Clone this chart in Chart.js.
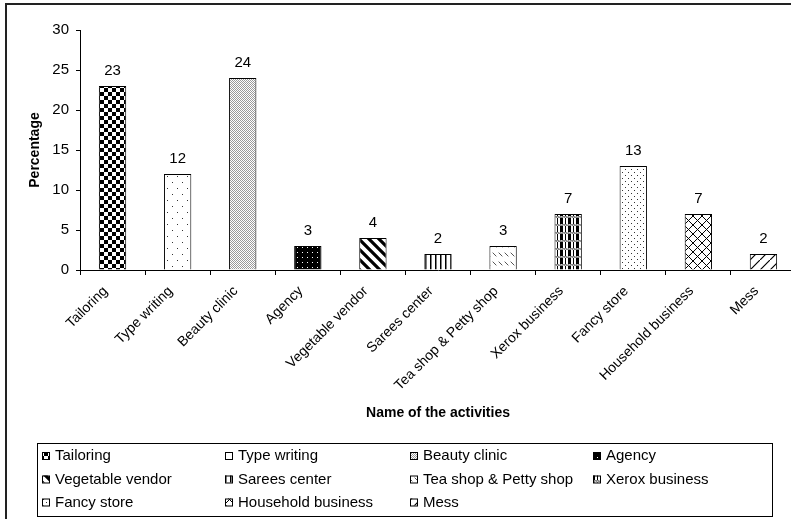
<!DOCTYPE html>
<html>
<head>
<meta charset="utf-8">
<script src="https://cdn.jsdelivr.net/npm/chart.js@4/dist/chart.umd.min.js"></script>
<style>
  html, body { margin: 0; padding: 0; background: #fff; overflow: hidden; }
  #wrap { position: relative; width: 791px; height: 519px; overflow: hidden; }
  #c { position: absolute; left: 0; top: 0; }
</style>
</head>
<body>
<div id="wrap"><canvas id="c" width="796" height="519"></canvas></div>
<script>
// Share of women entrepreneurs by activity
const categories = [
  'Tailoring', 'Type writing', 'Beauty clinic', 'Agency', 'Vegetable vendor',
  'Sarees center', 'Tea shop & Petty shop', 'Xerox business', 'Fancy store',
  'Household business', 'Mess'
];
const percentages = [23, 12, 24, 3, 4, 2, 3, 7, 13, 7, 2];
const yMin = 0;
const yMax = 30;
const yStep = 5;
const yTitle = 'Percentage';
const xTitle = 'Name of the activities';

const FONT = '"Liberation Sans", Arial, sans-serif';
const canvas = document.getElementById('c');
const ctx = canvas.getContext('2d');

// ---- monochrome fill patterns, one per activity ----
function tile(w, h, draw) {
  const t = document.createElement('canvas');
  t.width = w; t.height = h;
  const g = t.getContext('2d');
  g.fillStyle = '#fff';
  g.fillRect(0, 0, w, h);
  draw(g, w, h);
  return ctx.createPattern(t, 'repeat');
}
function px(g, pts, color) {
  g.fillStyle = color;
  pts.forEach(([x, y, w, h]) => g.fillRect(x, y, w || 1, h || 1));
}
function lines(g, segs, width, color) {
  g.strokeStyle = color; g.lineWidth = width; g.lineCap = 'square';
  g.beginPath();
  segs.forEach(([a, b, c, d]) => { g.moveTo(a, b); g.lineTo(c, d); });
  g.stroke();
}

const patterns = [
  // checkerboard
  tile(8, 8, g => px(g, [[0, 0, 4, 4], [4, 4, 4, 4]], '#000')),
  // sparse dots
  tile(10, 12, g => px(g, [[2, 2], [7, 8]], '#333')),
  // fine grey stipple
  tile(2, 2, g => px(g, [[0, 0], [1, 1]], '#9a9a9a')),
  // black with white dots
  tile(5, 5, g => { px(g, [[0, 0, 5, 5]], '#000'); px(g, [[2, 2]], '#fff'); }),
  // wide backward diagonal
  tile(10, 10, g => lines(g, [[-10, 0, 10, 20], [0, 0, 10, 10], [0, -10, 20, 10]], 3.2, '#000')),
  // vertical lines
  tile(5, 2, g => px(g, [[0, 0, 1.5, 2]], '#000')),
  // short dashed backward diagonals
  tile(6, 9, g => lines(g, [[1, 1, 4, 4]], 1, '#555')),
  // plaid: black columns with grey bands
  tile(8, 8, g => {
    px(g, [[0, 0, 3, 8], [5, 0, 1, 8]], '#000');
    px(g, [[0, 0, 8, 2]], '#888');
    px(g, [[1, 0], [5, 1], [3, 1], [7, 0]], '#ccc');
  }),
  // medium dots
  tile(6, 6, g => px(g, [[1, 1], [4, 4]], '#333')),
  // diagonal cross hatch
  tile(9, 9, g => lines(g, [[0, 0, 9, 9], [0, 9, 9, 0]], 1, '#000')),
  // wide forward diagonal
  tile(10, 10, g => lines(g, [[0, 10, 10, 0]], 1.2, '#000'))
];

// ---- value labels above the bars ----
const valueLabels = {
  id: 'valueLabels',
  afterDatasetsDraw(chart) {
    const c = chart.ctx;
    const meta = chart.getDatasetMeta(0);
    c.save();
    c.font = '15px ' + FONT;
    c.fillStyle = '#000';
    c.textAlign = 'center';
    c.textBaseline = 'middle';
    meta.data.forEach((bar, i) => {
      c.fillText(String(chart.data.datasets[0].data[i]), bar.x, bar.y - 15);
    });
    c.restore();
  }
};

// ---- boxed legend in a four-column grid, plus outer frame ----
const gridLegend = {
  id: 'gridLegend',
  afterDraw(chart) {
    const c = chart.ctx;
    const ds = chart.data.datasets[0];
    c.save();
    // legend box
    c.strokeStyle = '#000';
    c.lineWidth = 1;
    c.strokeRect(37.5, 443.5, 735, 73);
    const colX = [42, 225, 410, 593];
    const rowY = [456, 479.5, 502.5];
    c.font = '15px ' + FONT;
    c.textBaseline = 'middle';
    c.textAlign = 'left';
    chart.data.labels.forEach((lab, i) => {
      const x = colX[i % 4];
      const y = rowY[Math.floor(i / 4)];
      c.fillStyle = ds.backgroundColor[i];
      c.fillRect(x, y - 4, 7, 7);
      c.strokeStyle = '#000';
      c.strokeRect(x + 0.5, y - 3.5, 7, 7);
      c.fillStyle = '#000';
      c.fillText(lab, x + 13, y);
    });
    // outer frame
    c.strokeStyle = '#222';
    c.lineWidth = 2;
    c.strokeRect(6, 4, 1000, 1000);
    c.restore();
  }
};

new Chart(canvas, {
  type: 'bar',
  data: {
    labels: categories,
    datasets: [{
      data: percentages,
      backgroundColor: patterns,
      borderColor: '#000',
      borderWidth: 1,
      borderSkipped: 'bottom',
      barPercentage: 0.42,
      categoryPercentage: 1
    }]
  },
  options: {
    responsive: false,
    animation: false,
    devicePixelRatio: 1,
    layout: { padding: { left: 27, top: 30, right: 0, bottom: 97 } },
    plugins: { legend: { display: false }, tooltip: { enabled: false } },
    scales: {
      x: {
        offset: true,
        grid: {
          offset: true, drawOnChartArea: false, drawTicks: true,
          tickLength: 5, color: '#000', lineWidth: 1
        },
        border: { display: true, color: '#000', width: 1 },
        ticks: {
          autoSkip: false, maxRotation: 45, minRotation: 45,
          padding: 8, labelOffset: -7,
          color: '#000', font: { family: FONT, size: 14 }
        },
        title: {
          display: true, text: xTitle, color: '#000', padding: 0,
          font: { family: FONT, size: 14, weight: 'bold' }
        },
        afterFit(scale) { scale.height = 152; }
      },
      y: {
        min: yMin, max: yMax,
        grid: {
          drawOnChartArea: false, drawTicks: true,
          tickLength: 4, color: '#000', lineWidth: 1
        },
        border: { display: true, color: '#000', width: 1 },
        ticks: {
          stepSize: yStep, padding: 7,
          color: '#000', font: { family: FONT, size: 15 }
        },
        title: {
          display: true, text: yTitle, color: '#000', padding: 0,
          font: { family: FONT, size: 14, weight: 'bold' }
        },
        afterFit(scale) { scale.width = 53; }
      }
    }
  },
  plugins: [valueLabels, gridLegend]
});
</script>
</body>
</html>
